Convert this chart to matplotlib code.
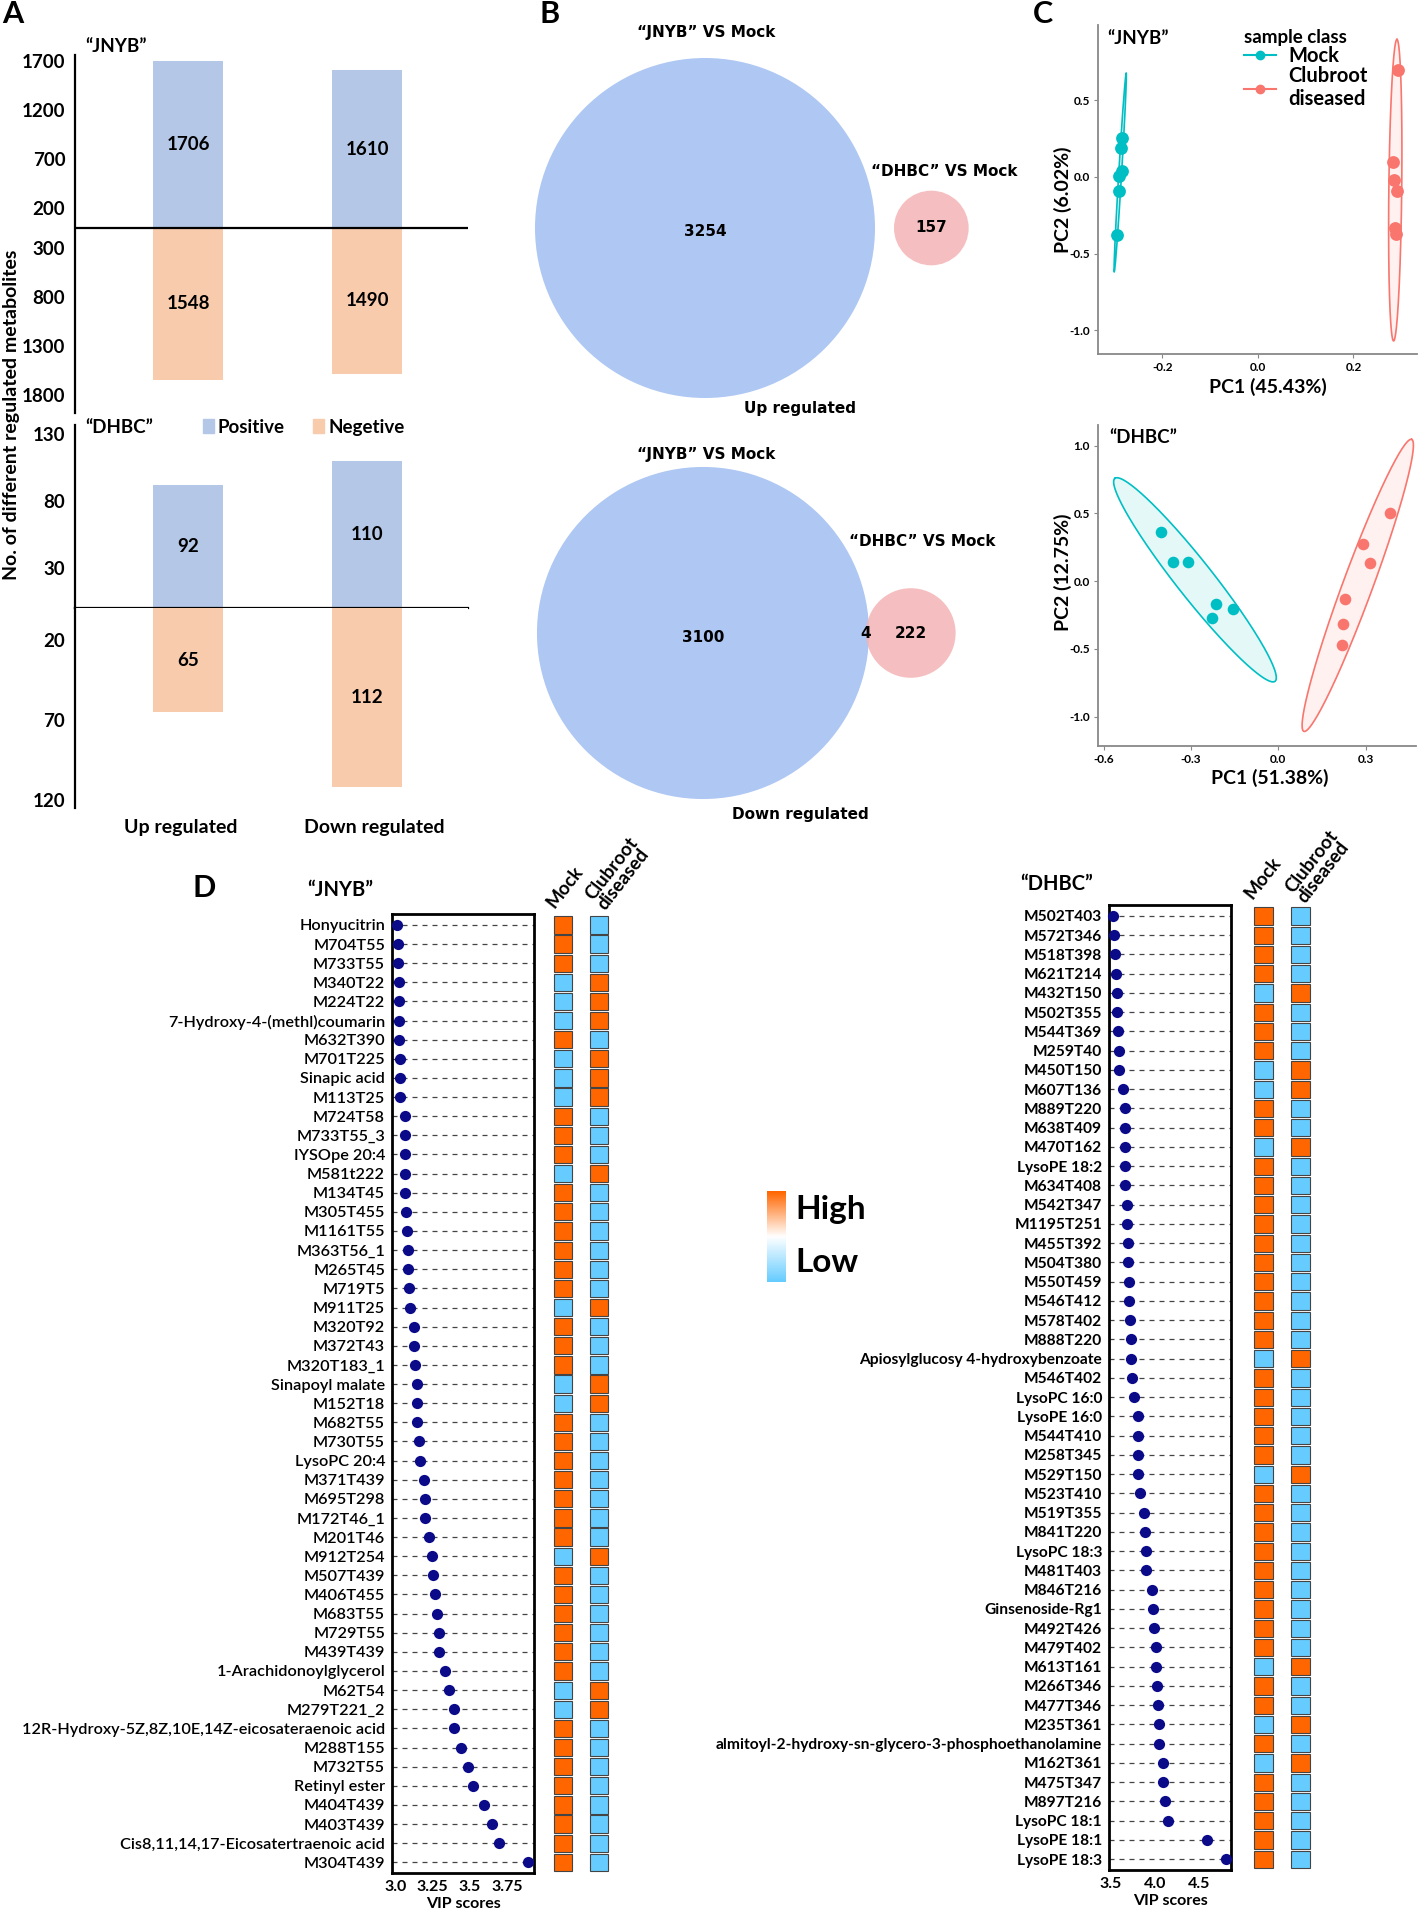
import numpy as np
import matplotlib
matplotlib.use('Agg')
import matplotlib.pyplot as plt
from matplotlib.patches import Circle, Patch
from matplotlib.lines import Line2D
from matplotlib.colors import LinearSegmentedColormap

plt.rcParams['font.family'] = ['Lato', 'DejaVu Sans']

# ---------------- data ----------------
# A: number of regulated metabolites
groups = ['Up regulated', 'Down regulated']
jnyb_pos = [1706, 1610]
jnyb_neg = [1548, 1490]
dhbc_pos = [92, 110]
dhbc_neg = [65, 112]
jnyb_ticks = [1700, 1200, 700, 200, -200, -700, -1200, -1700]
jnyb_ticklabels = ['1700', '1200', '700', '200', '300', '800', '1300', '1800']
dhbc_up_ticks = [30, 80, 130]
dhbc_down_ticks = [20, 70, 120]

# B: venn counts (only JNYB, only DHBC, shared)
venn_up = (3254, 157, 0)
venn_down = (3100, 222, 4)

# C: PCA scores
jnyb_mock_pc1 = [-0.284, -0.287, -0.284, -0.291, -0.290, -0.296]
jnyb_mock_pc2 = [0.254, 0.189, 0.037, 0.007, -0.093, -0.376]
jnyb_club_pc1 = [0.294, 0.282, 0.285, 0.291, 0.287, 0.289]
jnyb_club_pc2 = [0.696, 0.098, -0.022, -0.091, -0.333, -0.370]
dhbc_mock_pc1 = [-0.403, -0.361, -0.310, -0.214, -0.229, -0.155]
dhbc_mock_pc2 = [0.360, 0.143, 0.143, -0.172, -0.271, -0.209]
dhbc_club_pc1 = [0.384, 0.290, 0.315, 0.229, 0.224, 0.220]
dhbc_club_pc2 = [0.500, 0.271, 0.135, -0.133, -0.318, -0.473]
# confidence ellipses: centre, major half axis, minor half axis
jnyb_mock_ell = [(-0.2885, 0.027), (0.0125, 0.647), (0.003, 0.0)]
jnyb_club_ell = [(0.2875, -0.087), (0.0035, 0.983), (0.0135, 0.0)]
dhbc_mock_ell = [(-0.286, 0.010), (-0.275, 0.749), (0.049, 0.084)]
dhbc_club_ell = [(0.273, -0.031), (0.185, 1.078), (0.048, -0.038)]

# D: VIP scores
jnyb_names = ['Honyucitrin', 'M704T55', 'M733T55', 'M340T22', 'M224T22',
              '7-Hydroxy-4-(methl)coumarin', 'M632T390', 'M701T225', 'Sinapic acid', 'M113T25',
              'M724T58', 'M733T55_3', 'IYSOpe 20:4', 'M581t222', 'M134T45',
              'M305T455', 'M1161T55', 'M363T56_1', 'M265T45', 'M719T5',
              'M911T25', 'M320T92', 'M372T43', 'M320T183_1', 'Sinapoyl malate',
              'M152T18', 'M682T55', 'M730T55', 'LysoPC 20:4', 'M371T439',
              'M695T298', 'M172T46_1', 'M201T46', 'M912T254', 'M507T439',
              'M406T455', 'M683T55', 'M729T55', 'M439T439', '1-Arachidonoylglycerol',
              'M62T54', 'M279T221_2', '12R-Hydroxy-5Z,8Z,10E,14Z-eicosateraenoic acid', 'M288T155', 'M732T55',
              'Retinyl ester', 'M404T439', 'M403T439', 'Cis8,11,14,17-Eicosatertraenoic acid', 'M304T439']
jnyb_vip = [3.012, 3.015, 3.017, 3.023, 3.026, 3.026, 3.026, 3.029, 3.032, 3.032,
            3.061, 3.061, 3.064, 3.064, 3.067, 3.070, 3.078, 3.084, 3.087, 3.090,
            3.096, 3.122, 3.122, 3.131, 3.142, 3.142, 3.148, 3.160, 3.166, 3.195,
            3.198, 3.198, 3.224, 3.247, 3.250, 3.267, 3.282, 3.290, 3.290, 3.331,
            3.358, 3.390, 3.392, 3.439, 3.488, 3.523, 3.593, 3.651, 3.698, 3.892]
jnyb_mock = 'HHHLLLHLLL' 'HHHLHHHHHH' 'LHHHLLHHHH' 'HHHLHHHHHH' 'LLHHHHHHHH'
jnyb_club = 'LLLHHHLHHH' 'LLLHLLLLLL' 'HLLLHHLLLL' 'LLLHLLLLLL' 'HHLLLLLLLL'

dhbc_names = ['M502T403', 'M572T346', 'M518T398', 'M621T214', 'M432T150',
              'M502T355', 'M544T369', 'M259T40', 'M450T150', 'M607T136',
              'M889T220', 'M638T409', 'M470T162', 'LysoPE 18:2', 'M634T408',
              'M542T347', 'M1195T251', 'M455T392', 'M504T380', 'M550T459',
              'M546T412', 'M578T402', 'M888T220', 'Apiosylglucosy 4-hydroxybenzoate', 'M546T402',
              'LysoPC 16:0', 'LysoPE 16:0', 'M544T410', 'M258T345', 'M529T150',
              'M523T410', 'M519T355', 'M841T220', 'LysoPC 18:3', 'M481T403',
              'M846T216', 'Ginsenoside-Rg1', 'M492T426', 'M479T402', 'M613T161',
              'M266T346', 'M477T346', 'M235T361', 'almitoyl-2-hydroxy-sn-glycero-3-phosphoethanolamine', 'M162T361',
              'M475T347', 'M897T216', 'LysoPC 18:1', 'LysoPE 18:1', 'LysoPE 18:3']
dhbc_vip = [3.526, 3.539, 3.548, 3.557, 3.574, 3.574, 3.578, 3.591, 3.596, 3.635,
            3.657, 3.657, 3.661, 3.665, 3.665, 3.683, 3.683, 3.696, 3.700, 3.704,
            3.709, 3.722, 3.730, 3.730, 3.743, 3.765, 3.804, 3.813, 3.813, 3.813,
            3.835, 3.874, 3.887, 3.896, 3.904, 3.974, 3.983, 3.996, 4.013, 4.017,
            4.022, 4.035, 4.052, 4.052, 4.091, 4.091, 4.122, 4.152, 4.600, 4.813]
dhbc_mock = 'HHHHLHHHLL' 'HHLHHHHHHH' 'HHHLHHHHHL' 'HHHHHHHHHL' 'HHLHLHHHHH'
dhbc_club = 'LLLLHLLLHH' 'LLHLLLLLLL' 'LLLHLLLLLH' 'LLLLLLLLLH' 'LLHLHLLLLL'

# ---------------- layout helpers ----------------
W, H = 1418, 1912
fig = plt.figure(figsize=(W / 100, H / 100), dpi=100)


def add_ax(x0, y0, x1, y1):
    return fig.add_axes([x0 / W, 1 - y1 / H, (x1 - x0) / W, (y1 - y0) / H])


def ftext(x, y, s, **kw):
    return fig.text(x / W, 1 - y / H, s, **kw)


BAR_BLUE = '#B4C7E7'
BAR_ORANGE = '#F8CBAD'
TEAL = '#00BFC4'
SALMON = '#F8766D'
HEAT = {'H': '#FF6600', 'L': '#66CCFF'}
DOT = '#0B0B8A'

# ---------------- A ----------------
ftext(2, 14, 'A', fontsize=22, fontweight='bold', va='center')
xpos = np.arange(len(groups))
bw = 0.39


def style_bar_ax(ax, ticks, labels):
    for s in ['top', 'right', 'bottom']:
        ax.spines[s].set_visible(False)
    ax.spines['left'].set_linewidth(1.6)
    ax.set_xlim(-0.631, 1.564)
    ax.set_xticks([])
    ax.set_yticks(ticks)
    ax.set_yticklabels(labels, fontsize=13.5, fontweight='bold')
    ax.tick_params(axis='y', length=0, pad=7)


axa = add_ax(75, 55, 468, 413)
axa.bar(xpos, jnyb_pos, width=bw, color=BAR_BLUE)
axa.bar(xpos, [-v for v in jnyb_neg], width=bw, color=BAR_ORANGE)
axa.axhline(0, color='black', lw=1.6)
axa.set_ylim(-1888, 1765)
style_bar_ax(axa, jnyb_ticks, jnyb_ticklabels)
for i in xpos:
    axa.text(i, jnyb_pos[i] / 2, str(jnyb_pos[i]), ha='center', va='center', fontsize=13.5, fontweight='bold')
    axa.text(i, -jnyb_neg[i] / 2, str(jnyb_neg[i]), ha='center', va='center', fontsize=13.5, fontweight='bold')
ftext(85, 47, '\u201cJNYB\u201d', fontsize=13.5, fontweight='bold', va='center')

axu = add_ax(75, 425, 468, 608)
axu.bar(xpos, dhbc_pos, width=bw, color=BAR_BLUE)
axu.axhline(0, color='black', lw=1.6, clip_on=False)
axu.set_ylim(0, 136.6)
style_bar_ax(axu, dhbc_up_ticks, [str(t) for t in dhbc_up_ticks])
axl = add_ax(75, 608, 468, 808)
axl.bar(xpos, dhbc_neg, width=bw, color=BAR_ORANGE)
axl.set_ylim(125, 0)
style_bar_ax(axl, dhbc_down_ticks, [str(t) for t in dhbc_down_ticks])
for i in xpos:
    axu.text(i, dhbc_pos[i] / 2, str(dhbc_pos[i]), ha='center', va='center', fontsize=13.5, fontweight='bold')
    axl.text(i, dhbc_neg[i] / 2, str(dhbc_neg[i]), ha='center', va='center', fontsize=13.5, fontweight='bold')
ftext(85, 427, '\u201cDHBC\u201d', fontsize=13.5, fontweight='bold', va='center')
axu.legend(handles=[Patch(color=BAR_BLUE, label='Positive'), Patch(color=BAR_ORANGE, label='Negetive')],
           ncol=2, loc='center left', bbox_to_anchor=(186 / W, 1 - 427 / H), bbox_transform=fig.transFigure,
           frameon=False, handlelength=0.6, handleheight=0.7, handletextpad=0.2, columnspacing=1.5,
           prop={'weight': 'bold', 'size': 13.5})
ftext(181, 828, groups[0], fontsize=14, fontweight='bold', ha='center', va='center')
ftext(374, 828, groups[1], fontsize=14, fontweight='bold', ha='center', va='center')
ftext(12, 415, 'No. of different regulated metabolites', rotation=90, fontsize=14,
      fontweight='bold', ha='center', va='center')

# ---------------- B ----------------
ftext(540, 14, 'B', fontsize=22, fontweight='bold', va='center')
axb = add_ax(480, 0, 1030, 840)
axb.set_xlim(480, 1030)
axb.set_ylim(840, 0)
axb.axis('off')
R_SCALE = 2.98
bfont = dict(family='DejaVu Sans', fontweight='bold', fontsize=11, ha='center', va='center')
for counts, cx, cy, gap, ttl_y, d_xy, lab in [
        (venn_up, 705, 228, 19, 33, (944, 171), 'Up regulated'),
        (venn_down, 703, 633, -3, 454, (922, 542), 'Down regulated')]:
    only_j, only_d, shared = counts
    r1 = R_SCALE * np.sqrt(only_j + shared)
    r2 = R_SCALE * np.sqrt(only_d + shared)
    c2 = cx + r1 + r2 + gap
    axb.add_patch(Circle((cx, cy), r1, color='#AEC7F3', lw=0))
    axb.add_patch(Circle((c2, cy), r2, color='#F4B4B6', alpha=0.85, lw=0))
    axb.text(cx, cy + 4, str(only_j), **bfont)
    axb.text(c2, cy, str(only_d), **bfont)
    if shared:
        axb.text(cx + r1 - 3, cy, str(shared), **bfont)
    axb.text(706, ttl_y, '\u201cJNYB\u201d VS Mock', **bfont)
    axb.text(d_xy[0], d_xy[1], '\u201cDHBC\u201d VS Mock', **bfont)
    axb.text(800, cy + 181, lab, **bfont)

# ---------------- C ----------------
ftext(1033, 14, 'C', fontsize=22, fontweight='bold', va='center')


def ellipse(ax, ell, color):
    (cx, cy), (ax1, ay1), (bx, by) = ell
    t = np.linspace(0, 2 * np.pi, 300)
    ex = cx + ax1 * np.cos(t) + bx * np.sin(t)
    ey = cy + ay1 * np.cos(t) + by * np.sin(t)
    ax.fill(ex, ey, color=color, alpha=0.1, lw=0)
    ax.plot(ex, ey, color=color, lw=1.2)


def style_pca(ax, xt, yt):
    for s in ['top', 'right']:
        ax.spines[s].set_visible(False)
    for s in ['left', 'bottom']:
        ax.spines[s].set_color('#888888')
        ax.spines[s].set_linewidth(1.3)
    ax.set_xticks(xt)
    ax.set_yticks(yt)
    ax.set_xticklabels(['%.1f' % v for v in xt], fontsize=8.5, fontweight='bold')
    ax.set_yticklabels(['%.1f' % v for v in yt], fontsize=8.5, fontweight='bold')
    ax.tick_params(length=3, color='#888888', pad=3)


axc1 = add_ax(1098, 25, 1417, 354)
ellipse(axc1, jnyb_mock_ell, TEAL)
ellipse(axc1, jnyb_club_ell, SALMON)
axc1.scatter(jnyb_mock_pc1, jnyb_mock_pc2, s=85, color=TEAL, zorder=3, lw=0)
axc1.scatter(jnyb_club_pc1, jnyb_club_pc2, s=85, color=SALMON, zorder=3, lw=0)
axc1.set_xlim(-0.335, 0.333)
axc1.set_ylim(-1.155, 0.99)
style_pca(axc1, [-0.2, 0.0, 0.2], [-1.0, -0.5, 0.0, 0.5])
axc1.text(0.03, 0.96, '\u201cJNYB\u201d', transform=axc1.transAxes, fontsize=13.5, fontweight='bold', va='center')
axc1.legend(handles=[Line2D([], [], color=TEAL, marker='o', ms=6, lw=1.5, label='Mock'),
                     Line2D([], [], color=SALMON, marker='o', ms=6, lw=1.5, label='Clubroot\ndiseased')],
            title='sample class', alignment='left', loc='upper left',
            bbox_to_anchor=(1232 / W, 1 - 17 / H), bbox_transform=fig.transFigure, frameon=False,
            prop={'weight': 'bold', 'size': 14.5}, title_fontproperties={'weight': 'bold', 'size': 13.5},
            handlelength=1.6, handletextpad=0.6, labelspacing=0.0, borderpad=0.1)
ftext(1268, 387, 'PC1 (45.43%)', fontsize=14, fontweight='bold', ha='center', va='center')
ftext(1063, 200, 'PC2 (6.02%)', fontsize=14, fontweight='bold', ha='center', va='center', rotation=90)

axc2 = add_ax(1098, 425, 1416, 746)
ellipse(axc2, dhbc_mock_ell, TEAL)
ellipse(axc2, dhbc_club_ell, SALMON)
axc2.scatter(dhbc_mock_pc1, dhbc_mock_pc2, s=70, color=TEAL, zorder=3, lw=0)
axc2.scatter(dhbc_club_pc1, dhbc_club_pc2, s=70, color=SALMON, zorder=3, lw=0)
axc2.set_xlim(-0.619, 0.473)
axc2.set_ylim(-1.217, 1.153)
style_pca(axc2, [-0.6, -0.3, 0.0, 0.3], [-1.0, -0.5, 0.0, 0.5, 1.0])
axc2.text(0.035, 0.96, '\u201cDHBC\u201d', transform=axc2.transAxes, fontsize=13.5, fontweight='bold', va='center')
ftext(1270, 778, 'PC1 (51.38%)', fontsize=14, fontweight='bold', ha='center', va='center')
ftext(1063, 572, 'PC2 (12.75%)', fontsize=14, fontweight='bold', ha='center', va='center', rotation=90)

# ---------------- D ----------------
ftext(204, 888, 'D', fontsize=22, fontweight='bold', ha='center', va='center')


def vip_panel(box, heat_box, names, vip, mock, club, xlim, xt, xtl, title_xy, title, head, name_style):
    n = len(names)
    rows = np.arange(n)
    ax = add_ax(*box)
    ax.hlines(rows, xlim[0], xlim[1], colors='#444444', linestyles=(0, (4, 4)), lw=0.9, zorder=1)
    ax.scatter(vip, rows, s=65, color=DOT, zorder=3, clip_on=False, lw=0)
    ax.set_xlim(*xlim)
    ax.set_ylim(n - 1 + 0.56, -0.57)
    ax.set_yticks(rows)
    ax.set_yticklabels(names, **name_style)
    ax.set_xticks(xt)
    ax.set_xticklabels(xtl, fontsize=11.5, fontweight='bold')
    ax.tick_params(length=0, pad=5)
    for s in ax.spines.values():
        s.set_linewidth(2)
    ax.set_xlabel('VIP scores', fontsize=11.5, fontweight='bold', labelpad=2)

    hx = add_ax(*heat_box)
    hx.set_xlim(-0.36, 1.36)
    hx.set_ylim(n - 1 + 0.56, -0.57)
    hx.axis('off')
    hx.barh(rows, 0.5, left=-0.25, height=0.9, color=[HEAT[c] for c in mock], edgecolor='#444444', lw=0.8)
    hx.barh(rows, 0.5, left=0.75, height=0.9, color=[HEAT[c] for c in club], edgecolor='#444444', lw=0.8)
    ftext(title_xy[0], title_xy[1], title, fontsize=14.5, fontweight='bold', ha='center', va='center')
    ftext(head[0][0], head[0][1], 'Mock', rotation=52, rotation_mode='anchor', ha='left', va='bottom',
          fontsize=13.5, fontweight='bold')
    ftext(head[1][0], head[1][1], 'Clubroot\ndiseased', rotation=52, rotation_mode='anchor', ha='left',
          va='bottom', fontsize=13.5, fontweight='bold', linespacing=0.95)


vip_panel((392, 914, 534, 1873), (550, 914, 612, 1873), jnyb_names, jnyb_vip, jnyb_mock, jnyb_club,
          (2.977, 3.93), [3.0, 3.25, 3.5, 3.75], ['3.0', '3.25', '3.5', '3.75'],
          (340, 890), '\u201cJNYB\u201d', [(557, 911), (608, 913)],
          dict(fontsize=11.7, fontweight='semibold'))
vip_panel((1109, 905, 1231, 1870), (1250, 905, 1314, 1870), dhbc_names, dhbc_vip, dhbc_mock, dhbc_club,
          (3.478, 4.87), [3.5, 4.0, 4.5], ['3.5', '4.0', '4.5'],
          (1057, 884), '\u201cDHBC\u201d', [(1255, 902), (1308, 906)],
          dict(fontsize=11.2, fontweight='bold'))

# High / Low colour key
axk = add_ax(767, 1191, 786, 1282)
cmap = LinearSegmentedColormap.from_list('hl', ['#66CCFF', '#FFFFFF', '#FF6600'])
axk.imshow(np.linspace(1, 0, 100).reshape(-1, 1), aspect='auto', cmap=cmap)
axk.axis('off')
ftext(795, 1210, 'High', fontsize=24, fontweight='bold', va='center')
ftext(795, 1262, 'Low', fontsize=24, fontweight='bold', va='center')

fig.savefig('out.png', dpi=100)
